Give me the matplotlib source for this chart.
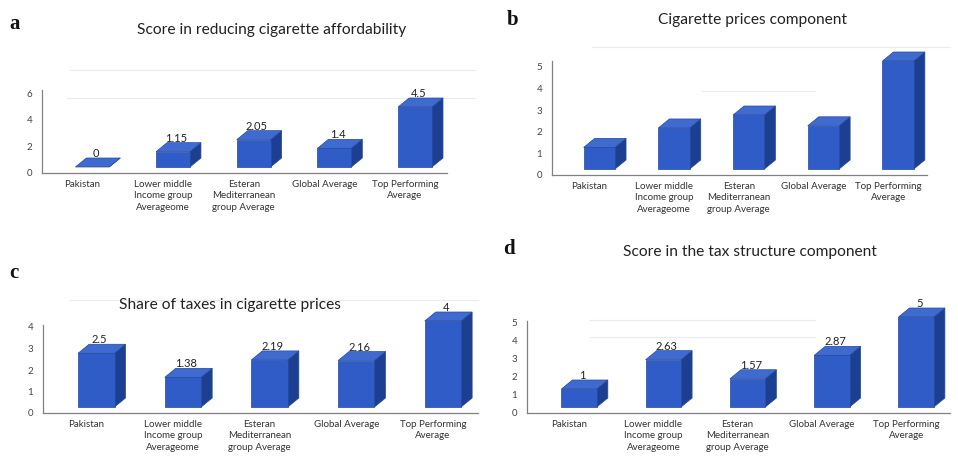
import matplotlib
matplotlib.use("Agg")
import matplotlib.pyplot as plt
from matplotlib.patches import Polygon, Rectangle
from matplotlib.lines import Line2D

plt.rcParams["font.family"] = ["Lato", "DejaVu Sans"]

W, H = 958, 457

categories = [
    "Pakistan",
    "Lower middle\nIncome group\nAverageome",
    "Esteran\nMediterranean\ngroup Average",
    "Global Average",
    "Top Performing\nAverage",
]

affordability = [0, 1.15, 2.05, 1.4, 4.5]
prices = [1.0, 1.9, 2.5, 2.0, 5.0]
tax_share = [2.5, 1.38, 2.19, 2.16, 4.0]
tax_structure = [1, 2.63, 1.57, 2.87, 5]

FRONT = "#2f5cc6"
SIDE = "#1d3f91"
TOP = "#3f6bd0"
EDGE = "#24489e"


def px_box(left, top, right, bottom):
    """Axes rectangle from pixel edges (origin at top-left)."""
    return [left / W, 1 - bottom / H, (right - left) / W, (bottom - top) / H]


def bars3d(ax, values, labels=True, width=0.42, shift_px=10, depth_px=(11, 9), lift_px=6):
    """Excel-style 3D column: front face, top face and right side."""
    bb = ax.get_position()
    xmin, xmax = ax.get_xlim()
    ymin, ymax = ax.get_ylim()
    ux = bb.width * W / (xmax - xmin)
    uy = bb.height * H / (ymax - ymin)
    dx, dy = depth_px[0] / ux, depth_px[1] / uy
    shift, base = shift_px / ux, lift_px / uy
    for i, v in enumerate(values):
        x0 = i + shift - width / 2
        x1 = x0 + width
        y0, y1 = base, base + v
        kw = dict(lw=0.5, edgecolor=EDGE, clip_on=False, zorder=3)
        ax.add_patch(Polygon([(x1, y0), (x1 + dx, y0 + dy), (x1 + dx, y1 + dy), (x1, y1)],
                             facecolor=SIDE, **kw))
        ax.add_patch(Polygon([(x0, y1), (x1, y1), (x1 + dx, y1 + dy), (x0 + dx, y1 + dy)],
                             facecolor=TOP, **kw))
        if v > 0:
            ax.add_patch(Rectangle((x0, y0), width, v, facecolor=FRONT, **kw))
        if labels:
            ax.text(x0 + width / 2 + dx * 0.3, y1 + dy - 1 / uy, f"{v:g}",
                    ha="center", va="bottom", fontsize=8, color="#222222", zorder=4)


def style_axes(ax, ylim, ticks):
    ax.set_xlim(-0.5, 4.52)
    ax.set_ylim(*ylim)
    ax.set_yticks(ticks)
    ax.set_xticks(range(len(categories)))
    ax.set_xticklabels(categories, fontsize=7, color="#333333", linespacing=1.35)
    ax.tick_params(axis="x", length=0, pad=5)
    ax.tick_params(axis="y", length=0, pad=7, labelsize=7, labelcolor="#444444")
    for s in ("top", "right"):
        ax.spines[s].set_visible(False)
    for s in ("left", "bottom"):
        ax.spines[s].set_color("#808080")
        ax.spines[s].set_linewidth(0.9)
    ax.patch.set_alpha(0)


fig = plt.figure(figsize=(W / 100, H / 100), dpi=100)

# faint back-wall lines
for y, xa, xb in [(70, 70, 475), (98, 67, 475), (47, 592, 950), (91, 702, 815),
                  (300, 70, 478), (320, 590, 815), (337, 590, 815)]:
    fig.add_artist(Line2D([xa / W, xb / W], [1 - y / H, 1 - y / H],
                          color="#ebebeb", lw=0.8, zorder=0))

ax_a = fig.add_axes(px_box(42, 173 - 6.2 * 13.33, 447, 173))
style_axes(ax_a, (0, 6.2), [0, 2, 4, 6])
bars3d(ax_a, affordability)

ax_b = fig.add_axes(px_box(552, 175 - 5.3 * 21.6, 927, 175))
style_axes(ax_b, (0, 5.3), [0, 1, 2, 3, 4, 5])
bars3d(ax_b, prices, labels=False)

ax_c = fig.add_axes(px_box(43, 413 - 4.1 * 21.5, 478, 413))
style_axes(ax_c, (0, 4.1), [0, 1, 2, 3, 4])
bars3d(ax_c, tax_share)

ax_d = fig.add_axes(px_box(527, 413 - 5.1 * 18, 950, 413))
style_axes(ax_d, (0, 5.1), [0, 1, 2, 3, 4, 5])
bars3d(ax_d, tax_structure)

titles = [
    ("Score in reducing cigarette affordability", 272, 30),
    ("Cigarette prices component", 752, 20),
    ("Share of taxes in cigarette prices", 230, 305),
    ("Score in the tax structure component", 750, 252),
]
for text, x, y in titles:
    fig.text(x / W, 1 - y / H, text, ha="center", va="center", fontsize=11.2, color="#222222")

for letter, x, y in [("a", 15, 24), ("b", 513, 20), ("c", 14, 273), ("d", 509, 249)]:
    fig.text(x / W, 1 - y / H, letter, ha="center", va="center", fontsize=15,
             fontweight="bold", family="Liberation Serif", color="#111111")

fig.savefig("out.png", dpi=100)
